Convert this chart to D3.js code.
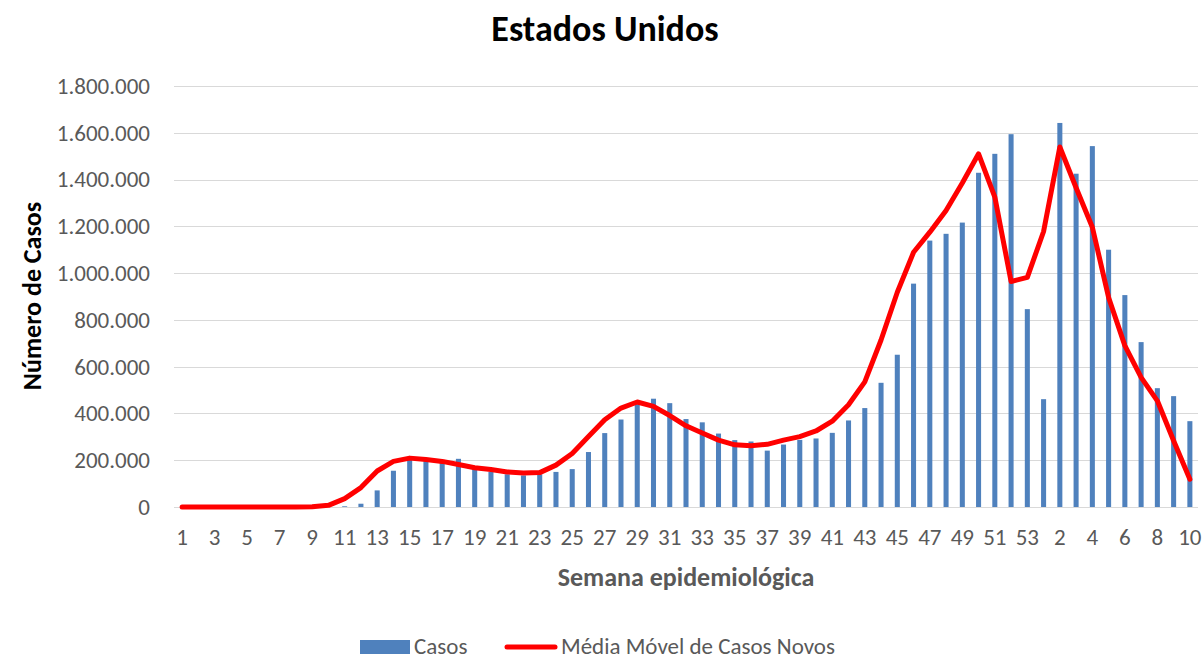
<!DOCTYPE html>
<html>
<head>
<meta charset="utf-8">
<style>
body { margin: 0; background: #fff; }
svg text { font-family: Carlito, Lato, "Open Sans", sans-serif; }
.grid line { stroke: #d9d9d9; stroke-width: 1px; }
.tick text { fill: #595959; font-size: 23px; }
</style>
</head>
<body>
<script src="https://cdn.jsdelivr.net/npm/d3@7"></script>
<script>
// weeks 1..53 of 2020, then 1..10 of 2021
var weeks = d3.range(1, 54).concat(d3.range(1, 11));

var casos = [
  0, 0, 0, 0, 0, 0, 0, 0, 0, 500,
  3000, 14000, 71000, 155000, 202000, 198000, 190000, 206000, 165000, 150000,
  140000, 135000, 140000, 150000, 162000, 235000, 316000, 374000, 440000, 463000,
  444000, 376000, 362000, 314000, 286000, 280000, 241000, 267000, 287000, 293000,
  317000, 370000, 423000, 531000, 651000, 955000, 1139000, 1168000, 1216000, 1429000,
  1510000, 1594000, 846000,
  461000, 1642000, 1425000, 1543000, 1100000, 906000, 705000, 508000, 474000, 367000
];

var media = [
  0, 0, 0, 0, 0, 0, 0, 0, 1000, 7000,
  36000, 83000, 154000, 195000, 209000, 203000, 195000, 182000, 168000, 160000,
  150000, 145000, 147000, 179000, 229000, 301000, 373000, 423000, 449000, 430000,
  391000, 347000, 316000, 286000, 266000, 262000, 268000, 286000, 301000, 325000,
  367000, 437000, 535000, 714000, 918000, 1089000, 1175000, 1268000, 1385000, 1510000,
  1325000, 964000, 982000,
  1178000, 1539000, 1365000, 1196000, 896000, 690000, 554000, 454000, 283000, 119000
];

var yTicks = d3.range(0, 1800001, 200000);

var W = 1203, H = 660;
var plot = { left: 174, right: 1198, top: 86, bottom: 507 };

var svg = d3.select("body").append("svg")
    .attr("width", W)
    .attr("height", H);

var idx = d3.range(weeks.length);

var x = d3.scaleBand()
    .domain(idx)
    .range([plot.left, plot.right])
    .paddingInner(0.69)
    .paddingOuter(0.345);

var y = d3.scaleLinear()
    .domain([0, 1800000])
    .range([plot.bottom, plot.top]);

var fmt = function (d) {
  return d3.format(",")(d).replace(/,/g, ".");
};

// horizontal grid
svg.append("g")
    .attr("class", "grid")
  .selectAll("line")
  .data(yTicks)
  .join("line")
    .attr("x1", plot.left)
    .attr("x2", plot.right)
    .attr("y1", function (d) { return Math.round(y(d)) + 0.5; })
    .attr("y2", function (d) { return Math.round(y(d)) + 0.5; });

// y axis labels
var yAxis = d3.axisLeft(y)
    .tickValues(yTicks)
    .tickFormat(fmt)
    .tickSize(0)
    .tickPadding(24);

svg.append("g")
    .attr("transform", "translate(" + plot.left + ",0)")
    .call(yAxis)
    .call(function (g) { g.select(".domain").remove(); });

// x axis labels (every other category)
var xAxis = d3.axisBottom(x)
    .tickValues(idx.filter(function (i) { return i % 2 === 0; }))
    .tickFormat(function (i) { return weeks[i]; })
    .tickSize(0)
    .tickPadding(22);

svg.append("g")
    .attr("transform", "translate(0," + plot.bottom + ")")
    .call(xAxis)
    .call(function (g) { g.select(".domain").remove(); });

// bars
svg.append("g")
  .selectAll("rect")
  .data(casos)
  .join("rect")
    .attr("x", function (d, i) { return x(i); })
    .attr("width", x.bandwidth())
    .attr("y", function (d) { return y(d); })
    .attr("height", function (d) { return y(0) - y(d); })
    .attr("fill", "#4f81bd");

// moving average line
var line = d3.line()
    .x(function (d, i) { return x(i) + x.bandwidth() / 2; })
    .y(function (d) { return y(d); });

svg.append("path")
    .attr("d", line(media))
    .attr("fill", "none")
    .attr("stroke", "#ff0000")
    .attr("stroke-width", 5)
    .attr("stroke-linejoin", "round")
    .attr("stroke-linecap", "round");

// titles
svg.append("text")
    .attr("x", 605)
    .attr("y", 41)
    .attr("text-anchor", "middle")
    .style("font-size", "36px")
    .style("font-weight", "bold")
    .style("fill", "#000")
    .text("Estados Unidos");

svg.append("text")
    .attr("transform", "translate(41,296) rotate(-90)")
    .attr("text-anchor", "middle")
    .style("font-size", "26px")
    .style("font-weight", "bold")
    .style("fill", "#000")
    .text("Número de Casos");

svg.append("text")
    .attr("x", 686)
    .attr("y", 586)
    .attr("text-anchor", "middle")
    .style("font-size", "26px")
    .style("font-weight", "bold")
    .style("fill", "#595959")
    .text("Semana epidemiológica");

// legend
var legend = svg.append("g");
legend.append("rect")
    .attr("x", 360)
    .attr("y", 640)
    .attr("width", 50)
    .attr("height", 14)
    .attr("fill", "#4f81bd");
legend.append("text")
    .attr("x", 414)
    .attr("y", 654)
    .style("font-size", "23px")
    .style("fill", "#595959")
    .text("Casos");
legend.append("line")
    .attr("x1", 507)
    .attr("x2", 555)
    .attr("y1", 647)
    .attr("y2", 647)
    .attr("stroke", "#ff0000")
    .attr("stroke-width", 5)
    .attr("stroke-linecap", "round");
legend.append("text")
    .attr("x", 561)
    .attr("y", 654)
    .style("font-size", "23px")
    .style("fill", "#595959")
    .text("Média Móvel de Casos Novos");
</script>
</body>
</html>
